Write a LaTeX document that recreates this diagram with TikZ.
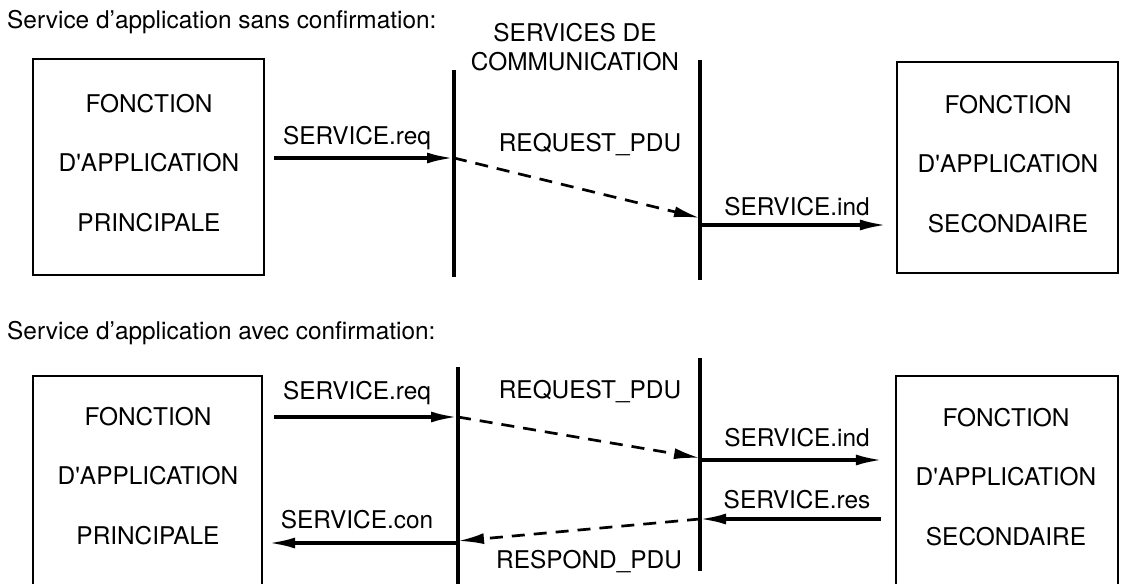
\documentclass[tikz,border=0pt]{standalone}
\usepackage{fontspec}
\setmainfont{TeX Gyre Heros}
\usetikzlibrary{arrows.meta}
\begin{document}
\begin{tikzpicture}[x=1pt,y=-1pt,
  fbox/.style={draw, line width=2.1pt, inner sep=0pt},
  ftext/.style={align=center, font=\fontsize{24.4}{59.5}\selectfont},
  lbl/.style={font=\fontsize{24.4}{29}\selectfont, inner sep=0pt},
  ttl/.style={font=\fontsize{24.4}{29}\selectfont, inner sep=0pt, anchor=west},
  layer/.style={line width=3.3pt},
  msg/.style={line width=3.1pt, -{Latex[length=26pt,width=11pt]}},
  pdu/.style={line width=2.7pt, dash pattern=on 13pt off 9pt, -{Latex[length=26pt,width=11pt]}},
]
\useasboundingbox (0,0) rectangle (1123,583);
\clip (0,0) rectangle (1123,583);

% ---------- unconfirmed service ----------
\node[ttl] (t1) at (7,22) {Service d’application sans confirmation:};

\node[fbox, minimum width=231pt, minimum height=216pt] (P1) at (148.5,167) {};
\node[ftext] (P1t) at (149,163) {FONCTION\\D\textquotesingle APPLICATION\\PRINCIPALE};
\node[fbox, minimum width=221pt, minimum height=211pt] (S1) at (1007.5,167.5) {};
\node[ftext] (S1t) at (1008,164) {FONCTION\\D\textquotesingle APPLICATION\\SECONDAIRE};

\node[align=center, font=\fontsize{24.4}{29}\selectfont, inner sep=0pt] (hdr) at (575,47) {SERVICES DE\\COMMUNICATION};

% communication layer boundaries
\coordinate (L1a) at (454,70);  \coordinate (L1b) at (454,277);
\coordinate (L2a) at (700,60);  \coordinate (L2b) at (700,280);
\draw[layer] (L1a) -- (L1b);
\draw[layer] (L2a) -- (L2b);

% request path
\coordinate (q1) at (454,158);
\coordinate (d1) at (700,218);
\coordinate (i1) at (700,225);
\draw[msg] ([xshift=9pt]P1.east |- q1) -- ([xshift=-1pt]q1);
\node[lbl] (req1) at (357,138) {SERVICE.req};
\draw[pdu] (q1) -- (d1);
\node[lbl] (pdu1) at (590,145) {REQUEST\_PDU};
\draw[msg] (i1) -- ([xshift=-10pt]S1.west |- i1);
\node[lbl] (ind1) at (797,207) {SERVICE.ind};

% ---------- confirmed service ----------
\node[ttl] (t2) at (7,333) {Service d’application avec confirmation:};

\node[fbox, anchor=north, minimum width=229pt, minimum height=240pt] (P2) at (147.5,375) {};
\node[ftext] (P2t) at (148,476) {FONCTION\\D\textquotesingle APPLICATION\\PRINCIPALE};
\node[fbox, anchor=north, minimum width=222pt, minimum height=240pt] (S2) at (1007,375) {};
\node[ftext] (S2t) at (1006,477) {FONCTION\\D\textquotesingle APPLICATION\\SECONDAIRE};

\coordinate (M1a) at (458,367);  \coordinate (M1b) at (458,586);
\coordinate (M2a) at (700,358);  \coordinate (M2b) at (700,571);
\draw[layer] (M1a) -- (M1b);
\draw[layer] (M2a) -- (M2b);

% request path
\coordinate (q2) at (458,417);
\coordinate (d2) at (700,458);
\coordinate (i2) at (700,460);
\draw[msg] ([xshift=11pt]P2.east |- q2) -- ([xshift=-1pt]q2);
\node[lbl] (req2) at (357,393) {SERVICE.req};
\draw[pdu] (q2) -- (d2);
\node[lbl] (pdu2) at (590,392) {REQUEST\_PDU};
\draw[msg] (i2) -- ([xshift=-13pt]S2.west |- i2);
\node[lbl] (ind2) at (797,438) {SERVICE.ind};

% response path
\coordinate (r2) at (700,519);
\coordinate (c2) at (458,541);
\coordinate (k2) at (458,543);
\draw[msg] ([xshift=-14pt]S2.west |- r2) -- (r2);
\node[lbl] (res2) at (797,500) {SERVICE.res};
\draw[pdu] (r2) -- (c2);
\node[lbl] (pdu3) at (589,562) {RESPOND\_PDU};
\draw[msg] (k2) -- ([xshift=6pt]P2.east |- k2);
\node[lbl] (con2) at (357,520) {SERVICE.con};
\end{tikzpicture}
\end{document}
